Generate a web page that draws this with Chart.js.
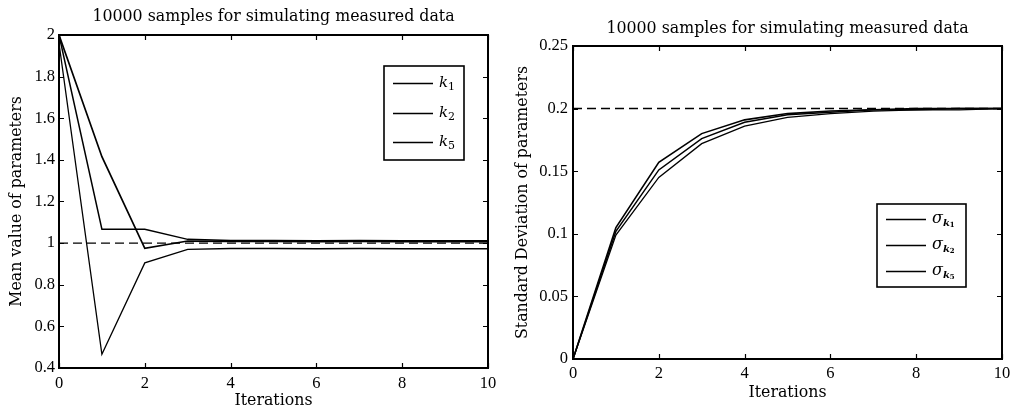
<!DOCTYPE html>
<html><head><meta charset="utf-8">
<script src="https://cdn.jsdelivr.net/npm/chart.js@4/dist/chart.umd.min.js"></script>
<style>
html,body{margin:0;padding:0;background:#fff;}
#wrap{position:relative;width:1016px;height:412px;overflow:hidden;background:#fff;}
#c1{position:absolute;left:0;top:0;}
#c2{position:absolute;left:505px;top:0;}
</style></head><body>
<div id="wrap">
<canvas id="c1" width="505" height="412"></canvas>
<canvas id="c2" width="511" height="412"></canvas>
</div>
<script>
// ---------- data ----------
const iterations = [0,1,2,3,4,5,6,7,8,9,10];
const titleText = '10000 samples for simulating measured data';

const meanNames = ['k1','k2','k5'];
const meanK1 = [2.00, 1.415, 0.975, 1.010, 1.008, 1.008, 1.007, 1.008, 1.007, 1.007, 1.007];
const meanK2 = [2.00, 1.067, 1.067, 1.018, 1.012, 1.012, 1.011, 1.012, 1.011, 1.011, 1.011];
const meanK5 = [1.96, 0.466, 0.905, 0.970, 0.974, 0.974, 0.973, 0.974, 0.973, 0.973, 0.973];
const meanTrue = 1.0;
const meanYTicks = [0.4,0.6,0.8,1.0,1.2,1.4,1.6,1.8,2.0];

const sdNames = ['σk1','σk2','σk5'];
const sdK1 = [0, 0.105, 0.157, 0.180, 0.191, 0.196, 0.198, 0.199, 0.200, 0.200, 0.200];
const sdK2 = [0, 0.102, 0.151, 0.176, 0.189, 0.195, 0.197, 0.199, 0.199, 0.200, 0.200];
const sdK5 = [0, 0.099, 0.145, 0.172, 0.186, 0.193, 0.196, 0.198, 0.199, 0.199, 0.200];
const sdTrue = 0.2;
const sdYTicks = [0,0.05,0.1,0.15,0.2,0.25];

const xTicks = [0,2,4,6,8,10];

// ---------- helpers ----------
const FONT = 'DejaVu Serif';
const TICKFONT = 'Liberation Serif';
const TXT = 15.8;
Chart.defaults.font.family = FONT;
Chart.defaults.color = '#000';

const pts = arr => arr.map((v,i)=>({x:iterations[i], y:v}));
const refLine = v => [{x:iterations[0], y:v},{x:iterations[iterations.length-1], y:v}];

const framePlugin = {
  id:'frame',
  afterDatasetsDraw(chart){
    const {ctx, chartArea:a, scales:{x,y}} = chart;
    ctx.save();
    ctx.strokeStyle='#000';
    ctx.lineWidth=1.2;
    const L=5;
    ctx.beginPath();
    x.ticks.forEach(t=>{
      const px=Math.round(x.getPixelForValue(t.value))+0.5;
      ctx.moveTo(px,a.bottom); ctx.lineTo(px,a.bottom-L);
      ctx.moveTo(px,a.top); ctx.lineTo(px,a.top+L);
    });
    y.ticks.forEach(t=>{
      const py=Math.round(y.getPixelForValue(t.value))+0.5;
      ctx.moveTo(a.left,py); ctx.lineTo(a.left+L,py);
      ctx.moveTo(a.right,py); ctx.lineTo(a.right-L,py);
    });
    ctx.stroke();
    ctx.lineWidth=2;
    ctx.strokeRect(Math.round(a.left), Math.round(a.top), Math.round(a.right-a.left), Math.round(a.bottom-a.top));
    ctx.restore();
  }
};

function parseName(n){
  const base=n[0]; const rest=n.slice(1);
  if (/[a-z]/i.test(rest[0])) return {base, sub:rest[0], subsub:rest.slice(1)};
  return {base, sub:rest, subsub:''};
}

const boxLegend = {
  id:'boxLegend',
  afterDraw(chart, args, o){
    const ctx=chart.ctx;
    ctx.save();
    ctx.fillStyle='#fff';
    ctx.fillRect(o.left,o.top,o.width,o.height);
    ctx.strokeStyle='#000'; ctx.lineWidth=1.6;
    ctx.strokeRect(o.left,o.top,o.width,o.height);
    const items = chart.data.datasets.filter(d=>d.legendName);
    items.forEach((d,i)=>{
      const yy=o.top+o.rowY[i];
      ctx.strokeStyle='#000'; ctx.lineWidth=d.borderWidth; ctx.setLineDash([]);
      ctx.beginPath(); ctx.moveTo(o.left+o.lineX0,yy+0.5); ctx.lineTo(o.left+o.lineX1,yy+0.5); ctx.stroke();
      const p=parseName(d.legendName);
      ctx.fillStyle='#000'; ctx.textBaseline='middle'; ctx.textAlign='left';
      let tx=o.left+o.textX;
      ctx.font=o.baseFont; ctx.fillText(p.base,tx,yy); tx+=ctx.measureText(p.base).width;
      ctx.font=o.subFont; ctx.fillText(p.sub,tx,yy+o.subDy); tx+=ctx.measureText(p.sub).width;
      if(p.subsub){ ctx.font=o.subsubFont; ctx.fillText(p.subsub,tx,yy+o.subsubDy); }
    });
    ctx.restore();
  }
};

function seriesDS(name, data, w){
  return {label:name, legendName:name, data:pts(data), borderColor:'#000', borderWidth:w,
          pointRadius:0, tension:0, fill:false};
}
function refDS(v){
  return {label:'ref', data:refLine(v), borderColor:'#000', borderWidth:1.4, borderDash:[9,5],
          pointRadius:0, fill:false};
}

function makeChart(id, cfg){
  return new Chart(document.getElementById(id), {
    type:'line',
    data:{datasets:cfg.datasets},
    plugins:[framePlugin, boxLegend],
    options:{
      responsive:false, animation:false, devicePixelRatio:1,
      layout:{padding:cfg.layoutPad},
      plugins:{
        legend:{display:false}, tooltip:{enabled:false},
        title:{display:true, text:titleText, fullSize:false, color:'#000',
               font:{family:FONT, size:TXT, weight:'normal'}, padding:cfg.titlePad},
        boxLegend:cfg.legend
      },
      scales:{
        x:{type:'linear', min:0, max:10,
           grid:{display:false, drawTicks:false}, border:{display:false},
           afterBuildTicks:s=>{s.ticks=xTicks.map(v=>({value:v}));},
           afterFit:s=>{s.height=cfg.xHeight;},
           ticks:{padding:cfg.xTickPad, font:{family:TICKFONT,size:16.5}, color:'#000', maxRotation:0,
                  callback:v=>String(v)},
           title:{display:true, text:'Iterations', color:'#000', font:{family:FONT,size:TXT},
                  padding:{top:0,bottom:cfg.xTitlePad}}},
        y:{type:'linear', min:cfg.yMin, max:cfg.yMax,
           grid:{display:false, drawTicks:false}, border:{display:false},
           afterBuildTicks:s=>{s.ticks=cfg.yTicks.map(v=>({value:v}));},
           afterFit:s=>{s.width=cfg.yWidth;},
           ticks:{padding:cfg.yTickPad, font:{family:TICKFONT,size:16.5}, color:'#000',
                  callback:v=>String(+(+v).toFixed(cfg.dec))},
           title:{display:true, text:cfg.yTitle, color:'#000', font:{family:FONT,size:TXT},
                  padding:{top:cfg.yTitlePad,bottom:0}}}
      }
    }
  });
}

makeChart('c1', {
  datasets:[refDS(meanTrue), seriesDS(meanNames[0],meanK1,1.7), seriesDS(meanNames[1],meanK2,1.5), seriesDS(meanNames[2],meanK5,1.3)],
  layoutPad:{left:0,right:17,top:0,bottom:0},
  titlePad:{top:7.5,bottom:8.5},
  xHeight:44, xTickPad:5.4, xTitlePad:1.5,
  yWidth:59, yTickPad:4, yTitlePad:7.5,
  yMin:0.4, yMax:2, yTicks:meanYTicks, dec:1,
  yTitle:'Mean value of parameters',
  legend:{left:384, top:66, width:80, height:94, rowY:[17,47,76], lineX0:9, lineX1:49, textX:55,
          baseFont:'italic 15px "DejaVu Serif"', subFont:'11px "DejaVu Serif"', subsubFont:'8px "DejaVu Serif"',
          subDy:4, subsubDy:6}
});

makeChart('c2', {
  datasets:[refDS(sdTrue), seriesDS(sdNames[0],sdK1,1.6), seriesDS(sdNames[1],sdK2,1.5), seriesDS(sdNames[2],sdK5,1.3)],
  layoutPad:{left:0,right:14,top:12,bottom:0},
  titlePad:{top:7.5,bottom:7.5},
  xHeight:53, xTickPad:4.4, xTitlePad:9.5,
  yWidth:68, yTickPad:5, yTitlePad:8.5,
  yMin:0, yMax:0.25, yTicks:sdYTicks, dec:2,
  yTitle:'Standard Deviation of parameters',
  legend:{left:372, top:204, width:89, height:83, rowY:[15,41,67], lineX0:9, lineX1:49, textX:55,
          baseFont:'italic 16px "DejaVu Serif"', subFont:'italic bold 10px "DejaVu Serif"', subsubFont:'bold 7px "DejaVu Serif"',
          subDy:4, subsubDy:6}
});
</script>
</body></html>
